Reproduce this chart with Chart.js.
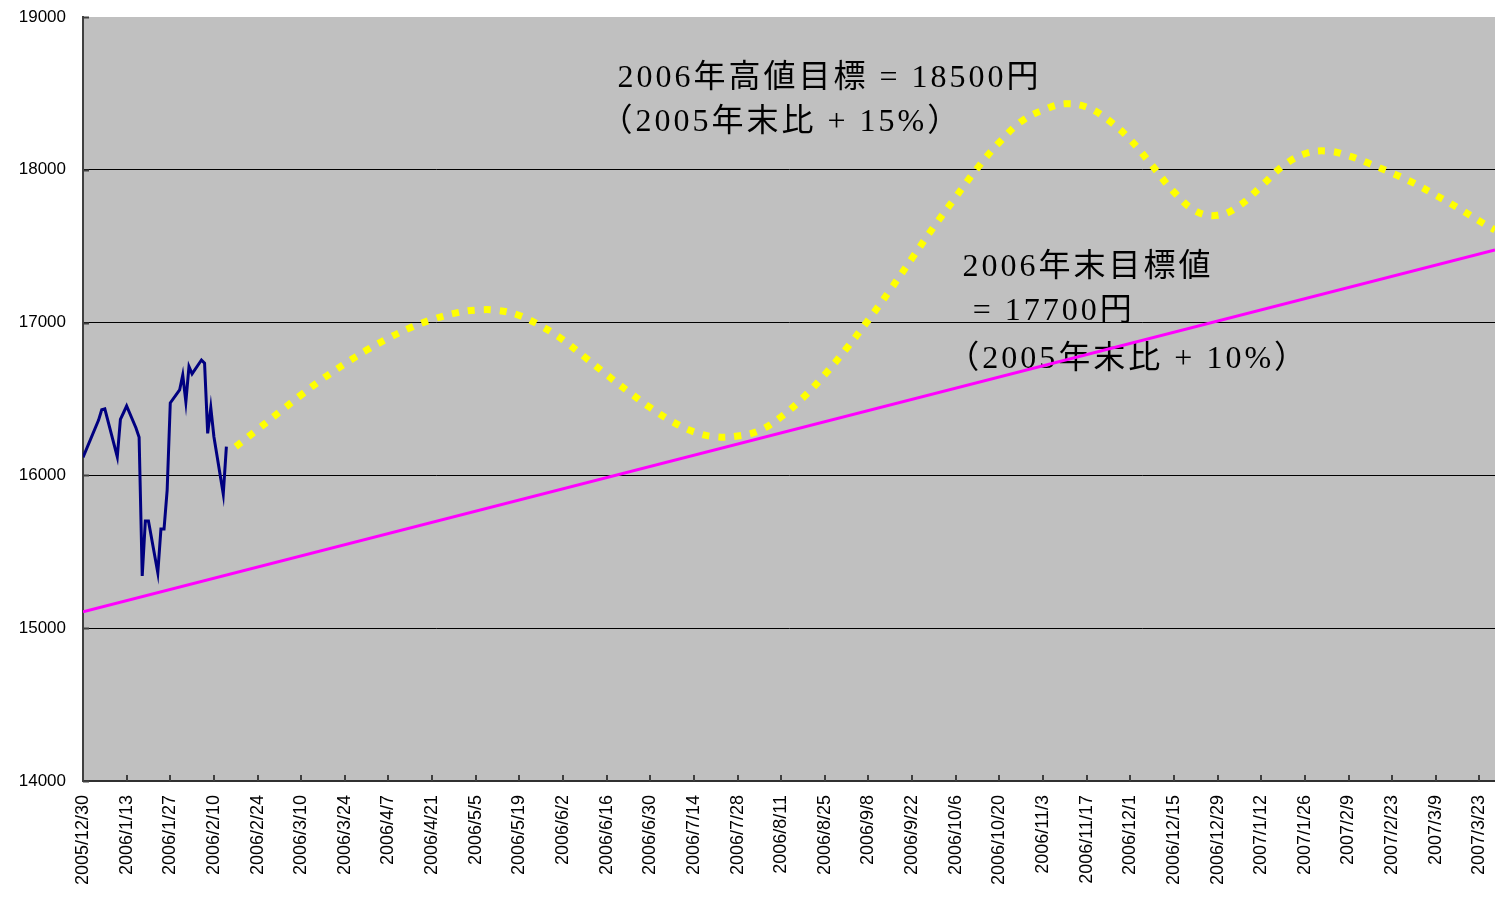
<!DOCTYPE html>
<html>
<head>
<meta charset="utf-8">
<title>日経平均 2006年目標</title>
<script src="https://cdn.jsdelivr.net/npm/chart.js@4.4.1/dist/chart.umd.min.js"></script>
<style>
    html, body { margin: 0; padding: 0; background: #fff; }
    #wrap { width: 1495px; height: 899px; }
</style>
</head>
<body>
<div id="wrap"><canvas id="nikkeiChart" width="1495" height="899"></canvas></div>
<script>
// x values are days counted from 2005/12/30

const xTickDays = [0, 14, 28, 42, 56, 70, 84, 98, 112, 126, 140, 154, 168, 182, 196, 210, 224,
    238, 252, 266, 280, 294, 308, 322, 336, 350, 364, 378, 392, 406, 420, 434, 448];
const xTickLabels = ['2005/12/30', '2006/1/13', '2006/1/27', '2006/2/10', '2006/2/24', '2006/3/10',
    '2006/3/24', '2006/4/7', '2006/4/21', '2006/5/5', '2006/5/19', '2006/6/2', '2006/6/16',
    '2006/6/30', '2006/7/14', '2006/7/28', '2006/8/11', '2006/8/25', '2006/9/8', '2006/9/22',
    '2006/10/6', '2006/10/20', '2006/11/3', '2006/11/17', '2006/12/1', '2006/12/15', '2006/12/29',
    '2007/1/12', '2007/1/26', '2007/2/9', '2007/2/23', '2007/3/9', '2007/3/23'];
const yTicks = [14000, 15000, 16000, 17000, 18000, 19000];

// actual closes (trading days)
const closeDays = [0, 5, 6, 7, 11, 12, 13, 14, 17, 18, 19, 20, 21, 24, 25, 26, 27, 28,
    31, 32, 33, 34, 35, 38, 39, 40, 41, 42, 45, 46];
const closeValues = [16118, 16362, 16430, 16435, 16122, 16367, 16410, 16455, 16310, 16250,
    15342, 15702, 15702, 15363, 15649, 15649, 15904, 16474,
    16559, 16657, 16482, 16712, 16664, 16755, 16734, 16275, 16443, 16253, 15878, 16188];

// expected path (yellow dots)
const pathDays = [49, 56, 63, 70, 77, 84, 91, 98, 105, 112, 119, 126, 133, 140, 147, 154, 161,
    168, 175, 182, 189, 196, 203, 210, 217, 224, 231, 238, 245, 252, 259, 266, 273, 280, 287,
    294, 301, 308, 315, 322, 329, 336, 343, 350, 357, 364, 371, 378, 385, 392, 399, 406, 413,
    420, 427, 434, 441, 448, 453];
const pathValues = [16188, 16300, 16414, 16527, 16634, 16730, 16820, 16898, 16966, 17020,
    17060, 17082, 17080, 17047, 16977, 16887, 16774, 16659, 16548, 16443, 16353, 16285, 16252,
    16258, 16293, 16384, 16508, 16660, 16832, 17018, 17215, 17422, 17628, 17822, 18013, 18180,
    18316, 18391, 18432, 18410, 18325, 18197, 18028, 17855, 17730, 17702, 17765, 17893, 18025,
    18105, 18123, 18092, 18038, 17978, 17912, 17834, 17752, 17665, 17606];

// trend line
const trendDays = [0, 453];
const trendValues = [15108, 17475];

const noteLines = ['2006年高値目標 = 18500円', '（2005年末比 + 15%）',
    '2006年末目標値', ' = 17700円', '（2005年末比 + 10%）'];

function toPoints(xs, ys) {
    return xs.map((x, i) => ({ x: x, y: ys[i] }));
}

// where the notes sit, in chart units (day, value)
const noteAnchors = [[171.5, 18542], [166.0, 18254], [282.2, 17305], [281.9, 17017], [277.3, 16703]];

const plotBackground = {
    id: 'plotBackground',
    beforeDraw(chart) {
        const a = chart.chartArea;
        const ctx = chart.ctx;
        ctx.save();
        ctx.fillStyle = '#c0c0c0';
        ctx.fillRect(a.left, a.top, a.right - a.left, a.bottom - a.top);
        ctx.restore();
    }
};

const innerTicks = {
    id: 'innerTicks',
    afterDatasetsDraw(chart) {
        const ctx = chart.ctx;
        const a = chart.chartArea;
        const xs = chart.scales.x;
        const ys = chart.scales.y;
        ctx.save();
        ctx.strokeStyle = '#404040';
        ctx.lineWidth = 2;
        ctx.beginPath();
        xTickDays.forEach(d => {
            const px = Math.round(xs.getPixelForValue(d));
            ctx.moveTo(px, a.bottom);
            ctx.lineTo(px, a.bottom - 6);
        });
        yTicks.forEach(v => {
            const py = Math.round(ys.getPixelForValue(v)) + 0.5;
            ctx.moveTo(a.left, py);
            ctx.lineTo(a.left + 6, py);
        });
        ctx.stroke();
        ctx.restore();
    }
};

const notes = {
    id: 'notes',
    beforeDatasetsDraw(chart) {
        const ctx = chart.ctx;
        const xs = chart.scales.x;
        const ys = chart.scales.y;
        ctx.save();
        ctx.fillStyle = '#000';
        ctx.font = '32px "Liberation Serif", "Noto Sans CJK JP"';
        ctx.textAlign = 'left';
        ctx.textBaseline = 'alphabetic';
        if ('letterSpacing' in ctx) ctx.letterSpacing = '3px';
        noteLines.forEach((t, i) => {
            const [d, v] = noteAnchors[i];
            ctx.fillText(t, xs.getPixelForValue(d), ys.getPixelForValue(v));
        });
        ctx.restore();
    }
};

new Chart(document.getElementById('nikkeiChart'), {
    type: 'line',
    data: {
        datasets: [
            {
                label: '日経平均',
                data: toPoints(closeDays, closeValues),
                borderColor: '#000080',
                borderWidth: 3,
                pointRadius: 0,
                tension: 0
            },
            {
                label: '2006年予想',
                data: toPoints(pathDays, pathValues),
                borderColor: '#ffff00',
                borderWidth: 7,
                borderDash: [7, 9],
                borderCapStyle: 'butt',
                pointRadius: 0,
                tension: 0.4
            },
            {
                label: 'トレンド',
                data: toPoints(trendDays, trendValues),
                borderColor: '#ff00ff',
                borderWidth: 3,
                pointRadius: 0,
                tension: 0
            }
        ]
    },
    options: {
        responsive: false,
        animation: false,
        devicePixelRatio: 1,
        layout: { padding: { top: 17, right: 0, bottom: 0, left: 0 } },
        plugins: {
            legend: { display: false },
            tooltip: { enabled: false }
        },
        scales: {
            x: {
                type: 'linear',
                min: 0,
                max: 453,
                afterBuildTicks: scale => {
                    scale.ticks = xTickDays.map(d => ({ value: d }));
                },
                afterFit: scale => {
                    scale.height = 118;
                    scale.paddingLeft = 0;
                    scale.paddingRight = 0;
                },
                grid: { drawOnChartArea: false, drawTicks: false },
                border: { color: '#303030', width: 2 },
                ticks: {
                    autoSkip: false,
                    minRotation: 90,
                    maxRotation: 90,
                    padding: 14,
                    color: '#000',
                    font: { family: '"Liberation Sans", Arial, sans-serif', size: 18 },
                    callback: (v, i) => xTickLabels[i]
                }
            },
            y: {
                min: 14000,
                max: 19000,
                afterBuildTicks: scale => {
                    scale.ticks = yTicks.map(v => ({ value: v }));
                },
                afterFit: scale => {
                    scale.width = 83;
                    scale.paddingTop = 0;
                    scale.paddingBottom = 0;
                },
                grid: {
                    drawTicks: false,
                    lineWidth: 1,
                    color: c => (c.tick && c.tick.value === 19000) ? 'rgba(0,0,0,0)' : '#000'
                },
                border: { color: '#404040', width: 2 },
                ticks: {
                    padding: 17,
                    color: '#000',
                    font: { family: '"Liberation Sans", Arial, sans-serif', size: 17 },
                    callback: v => String(v)
                }
            }
        }
    },
    plugins: [plotBackground, notes, innerTicks]
});
</script>
</body>
</html>
